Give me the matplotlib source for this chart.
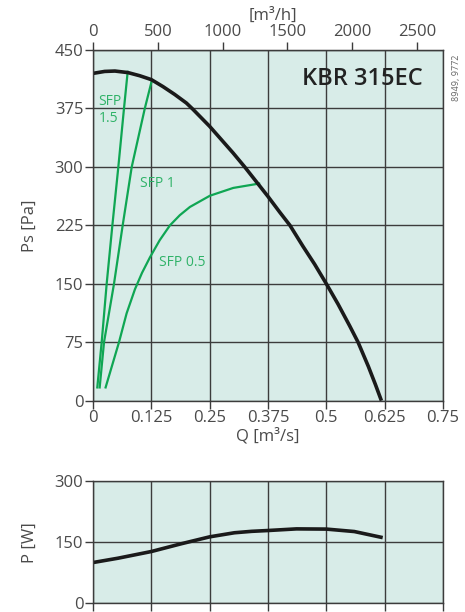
import matplotlib.pyplot as plt

plt.rcParams['font.family'] = ['Open Sans', 'DejaVu Sans']

# fan curve, Q [m3/s] vs Ps [Pa]
q_fan = [0.0, 0.025, 0.047, 0.075, 0.1, 0.125, 0.15, 0.175, 0.2, 0.214, 0.25, 0.275,
         0.3, 0.325, 0.35, 0.375, 0.4, 0.422, 0.45, 0.475, 0.5, 0.525, 0.55, 0.568,
         0.59, 0.605, 0.618]
ps_fan = [420, 422.5, 423, 421, 417, 412, 403, 393, 382, 374, 352, 335,
          318, 300, 281, 262, 242, 225, 198, 175, 150, 124, 96, 75,
          44, 21, 0]

# SFP lines
q_sfp15 = [0.0092, 0.0186, 0.0293, 0.0415, 0.0543, 0.0664, 0.0743]
ps_sfp15 = [17, 75, 150, 225, 300, 375, 422]
q_sfp1 = [0.0143, 0.0236, 0.045, 0.0636, 0.083, 0.111, 0.1257]
ps_sfp1 = [17, 75, 150, 225, 300, 375, 410]
q_sfp05 = [0.027, 0.0557, 0.072, 0.0899, 0.105, 0.1221, 0.143, 0.1649, 0.186, 0.2077,
           0.2505, 0.3005, 0.356]
ps_sfp05 = [17, 75, 112, 143, 164, 184, 206, 225, 238, 248.6,
            263, 273, 278.6]

# power curve
q_pow = [0.0, 0.0536, 0.125, 0.189, 0.25, 0.303, 0.34, 0.375, 0.436, 0.5, 0.56, 0.617]
p_pow = [100, 110.6, 127, 146, 163, 173, 176.5, 178.5, 182.5, 182, 176, 162]

q_ticks = [0, 0.125, 0.25, 0.375, 0.5, 0.625, 0.75]
q_labels = ['0', '0.125', '0.25', '0.375', '0.5', '0.625', '0.75']
ps_ticks = [0, 75, 150, 225, 300, 375, 450]
m3h_ticks = [0, 500, 1000, 1500, 2000, 2500]
p_ticks = [0, 150, 300]

bg = '#d8ece8'
grid_c = '#3c3c3c'
txt_c = '#4a4a4a'
green = '#0fa653'
green_txt = '#2fb268'

fig = plt.figure(figsize=(4.65, 6.12), dpi=100)
ax = fig.add_axes([0.2, 0.3453, 0.7527, 0.573])
ax2 = fig.add_axes([0.2, 0.0142, 0.7527, 0.1999])

for a in (ax, ax2):
    a.set_facecolor(bg)
    a.set_xlim(0, 0.75)
    a.set_xticks(q_ticks)
    a.grid(True, color=grid_c, lw=1.0)
    a.set_axisbelow(True)
    for s in a.spines.values():
        s.set_color(grid_c)
        s.set_linewidth(1.0)
    a.tick_params(colors=grid_c, labelcolor=txt_c, labelsize=12, length=6, width=1, pad=1)

ax.set_ylim(0, 450)
ax.set_yticks(ps_ticks)
ax.set_xticklabels(q_labels)
ax.set_xlabel('Q [m³/s]', fontsize=12, color=txt_c, labelpad=1)
ax.set_ylabel('Ps [Pa]', fontsize=12, color=txt_c, labelpad=12)

sec = ax.secondary_xaxis('top', functions=(lambda q: q * 3600, lambda v: v / 3600))
sec.set_xticks(m3h_ticks)
sec.tick_params(colors=grid_c, labelcolor=txt_c, labelsize=12, length=6, width=1, pad=1)
sec.spines['top'].set_color(grid_c)
fig.text(0.587, 0.974, '[m³/h]', fontsize=12, color=txt_c, ha='center', va='center')

ax.plot(q_sfp15, ps_sfp15, color=green, lw=1.6)
ax.plot(q_sfp1, ps_sfp1, color=green, lw=1.6)
ax.plot(q_sfp05, ps_sfp05, color=green, lw=1.6)
ax.plot(q_fan, ps_fan, color='#1a1a1a', lw=2.6, solid_capstyle='butt')

ax.text(0.0115, 393, 'SFP\n1.5', fontsize=10, color=green_txt, va='top', ha='left', linespacing=1.1)
ax.text(0.100, 279, 'SFP 1', fontsize=10, color=green_txt, va='center', ha='left')
ax.text(0.141, 177, 'SFP 0.5', fontsize=10, color=green_txt, va='center', ha='left')
ax.text(0.577, 413, 'KBR 315EC', fontsize=17, fontweight='semibold', color='#222222',
        ha='center', va='center')

fig.text(0.981, 0.873, '8949, 9772', rotation=90, fontsize=6.5, color='#666666',
         ha='center', va='center')

ax2.set_ylim(0, 300)
ax2.set_yticks(p_ticks)
ax2.tick_params(labelbottom=False)
ax2.set_ylabel('P [W]', fontsize=12, color=txt_c, labelpad=12)
ax2.plot(q_pow, p_pow, color='#1a1a1a', lw=2.6)

fig.savefig('out.png', dpi=100)
